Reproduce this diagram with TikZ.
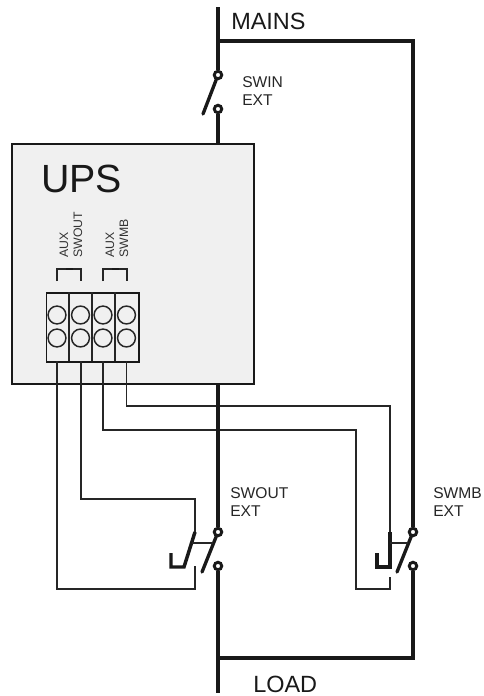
\documentclass[tikz,border=0pt]{standalone}
\usepackage{fontspec}
\setmainfont{Liberation Sans}
\tikzset{
  power/.style={line width=3pt,black!90},
  wire/.style={line width=1.2pt,black!85},
  auxblade/.style={line width=2.6pt,black!90,line join=miter},
  blade/.style={line width=2.5pt,black!90,line cap=round},
  contact/.style={circle,draw=black!90,fill=white,line width=2.2pt,minimum size=5.6pt,inner sep=0pt},
  term/.style={circle,draw=black!85,fill=none,line width=1.1pt,minimum size=13.4pt,inner sep=0pt},
  lab/.style={anchor=base west,inner sep=0pt,font=\fontsize{11.7pt}{11.7pt}\selectfont,text=black!85},
  biglab/.style={anchor=base west,inner sep=0pt,font=\fontsize{17.6pt}{17.6pt}\selectfont,text=black!90},
  rotlab/.style={anchor=base west,inner sep=0pt,rotate=90,font=\fontsize{9.2pt}{9.2pt}\selectfont,text=black!80}
}
\begin{document}
\begin{tikzpicture}[x=0.75pt,y=-0.75pt]
\useasboundingbox (0,0) rectangle (483,696);
\fill[white] (0,0) rectangle (483,696);
% named points
\coordinate (top) at (218,7);
\coordinate (bot) at (218,693);
\coordinate (mj) at (218,41);
\coordinate (mr) at (413,41);
\coordinate (lj) at (218,658);
\coordinate (lr) at (413,658);
% UPS box
\node[draw=black!90,fill=black!6,line width=1.2pt,minimum width=242pt*0.75,minimum height=240pt*0.75,inner sep=0pt,anchor=north west] (ups) at (11,143) {};
\node[biglab,font=\fontsize{29.5pt}{29.5pt}\selectfont] (upslab) at (41,192) {UPS};
% terminal block
\node[draw=black!90,line width=1.2pt,minimum width=92.5pt*0.75,minimum height=69pt*0.75,inner sep=0pt,anchor=north west] (blk) at (45.7,292) {};
\draw[wire] (69,292) -- (69,361) (91.7,292) -- (91.7,361) (115,292) -- (115,361);
\foreach \n/\x in {ta/57,tb/80.5,tc/103,td/126.5}{
  \node[term] (\n u) at (\x,315) {};
  \node[term] (\n l) at (\x,338) {};
}
% brackets
\draw[wire,line width=0.9pt] (57,281) -- (57,269) -- (81,269) -- (81,281);
\draw[line width=2pt,black!90] (66,269) -- (73,269);
\draw[wire,line width=0.9pt] (103,281) -- (103,269) -- (127,269) -- (127,281);
\draw[line width=2pt,black!90] (112,269) -- (119,269);
\node[rotlab] (t1) at (68,258) {AUX};
\node[rotlab] (t2) at (82,258) {SWOUT};
\node[rotlab] (t3) at (114,258) {AUX};
\node[rotlab] (t4) at (128,258) {SWMB};
% wires
\coordinate (w1) at (57,361);
\coordinate (w2) at (81,361);
\coordinate (w3) at (103,361);
\coordinate (w4) at (126.5,361);
\draw[wire] (w1) -- (57,589) -- (195,589) -- (195,566);
\draw[wire] (w2) -- (81,499) -- (195,499) -- (195,532);
\draw[wire] (w3) -- (103,430) -- (356,430) -- (356,589) -- (390,589) -- (390,577);
\draw[wire] (w4) -- (126.5,406) -- (390,406) -- (390,532);
% contacts
\node[contact] (c1) at (218,75) {};
\node[contact] (c2) at (218,109) {};
\node[contact] (c3) at (218,532) {};
\node[contact] (c4) at (218,566) {};
\node[contact] (c5) at (413,532) {};
\node[contact] (c6) at (413,566) {};
% power lines
\draw[power] (top) -- (c1);
\draw[power] (mj) -- (mr) -- (c5);
\draw[power] (c6) -- (lr) -- (lj);
\draw[power] (c2) -- (218,143);
\draw[power] (218,383) -- (c3);
\draw[power] (c4) -- (bot);
\draw[blade] (c1) -- (203,114);
\draw[blade] (c3) -- (202,572);
\draw[blade] (c5) -- (397,572);
% aux contacts
\draw[auxblade] (195,532) -- (184,567) -- (171,567) -- (171,553);
\draw[auxblade] (390,532) -- (390,567) -- (377,567) -- (377,553);
\draw[wire] (192,543) -- (213,543);
\draw[wire] (390,543) -- (408,543);
% labels
\node[biglab] (mains) at (231,29) {MAINS};
\node[lab] (s1) at (242,87) {SWIN};
\node[lab] (s2) at (242,105) {EXT};
\node[lab] (s3) at (230,498) {SWOUT};
\node[lab] (s4) at (230,516) {EXT};
\node[lab] (s5) at (433,498) {SWMB};
\node[lab] (s6) at (433,516) {EXT};
\node[biglab] (load) at (253,692) {LOAD};
\end{tikzpicture}
\end{document}
